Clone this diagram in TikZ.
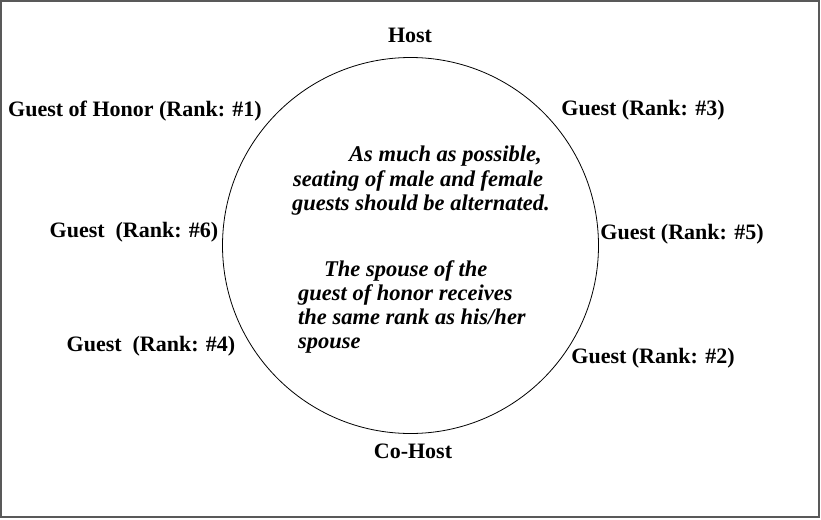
\documentclass[tikz,border=0pt]{standalone}
\usepackage{fontspec}
\setmainfont{Liberation Serif}
\begin{document}
\begin{tikzpicture}[x=1pt,y=-1pt,
  seat/.style={inner sep=0pt, font=\fontsize{22}{25}\selectfont\bfseries},
  note/.style={inner sep=0pt, anchor=base west, font=\fontsize{22.5}{25}\selectfont\bfseries\itshape},
  frame/.style={draw=black!65, line width=1.2pt}]
\useasboundingbox (0,0) rectangle (821,519);
\draw[frame] (1,1) rectangle (819,517);
\node[circle, draw, line width=0.8pt, minimum size=376pt, inner sep=0pt] (table) at (410.5,245.5) {};
\node[seat] (host) at (410,35) {Host};
\node[seat] (cohost) at (413,451) {Co-Host};
\node[seat] (g1) at (135,111) {Guest of Honor (Rank: \#1)};
\node[seat] (g3) at (643,110) {Guest (Rank: \#3)};
\node[seat] (g6) at (134,232) {Guest\ \ (Rank: \#6)};
\node[seat] (g5) at (682,234) {Guest (Rank: \#5)};
\node[seat] (g4) at (151,346) {Guest\ \ (Rank: \#4)};
\node[seat] (g2) at (653,358) {Guest (Rank: \#2)};
\node[note] (n1) at (349,161.5) {As much as possible,};
\node[note] (n2) at (293,186) {seating of male and female};
\node[note] (n3) at (292,210) {guests should be alternated.};
\node[note] (n4) at (324,276.5) {The spouse of the};
\node[note] (n5) at (298,300.5) {guest of honor receives};
\node[note] (n6) at (298,324.5) {the same rank as his/her};
\node[note] (n7) at (298,348) {spouse};
\end{tikzpicture}
\end{document}
